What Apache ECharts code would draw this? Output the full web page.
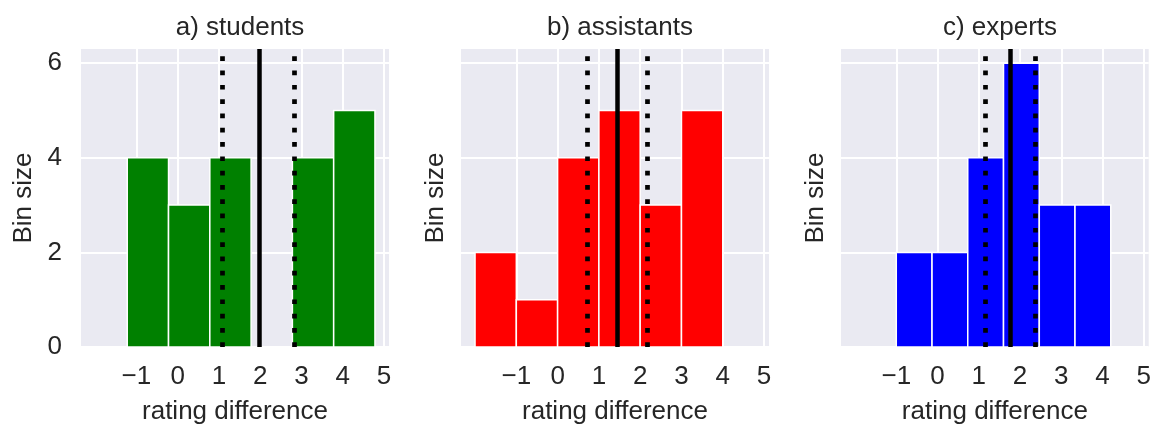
<!DOCTYPE html>
<html>
<head>
<meta charset="utf-8">
<script src="https://cdn.jsdelivr.net/npm/echarts@6/dist/echarts.min.js"></script>
<style>
  html, body { margin: 0; padding: 0; background: #ffffff; }
  #chart { width: 1154px; height: 430px; }
</style>
</head>
<body>
<div id="chart"></div>
<script>
// Histogram bin edges and counts for each group
const panelTitles = ['a) students', 'b) assistants', 'c) experts'];
const binEdgesStudents = [-1.22, -0.22, 0.78, 1.78, 2.78, 3.78, 4.78];
const countsStudents = [4, 3, 4, 0, 4, 5];
const binEdgesAssistants = [-2, -1, 0, 1, 2, 3, 4];
const countsAssistants = [2, 1, 4, 5, 3, 5];
const binEdgesExperts = [-1, -0.133, 0.733, 1.6, 2.467, 3.333, 4.2];
const countsExperts = [2, 2, 4, 6, 3, 3];

// Mean (solid line) and spread bounds (dotted lines) per group
const meanStudents = 1.97, lowStudents = 1.09, highStudents = 2.83;
const meanAssistants = 1.44, lowAssistants = 0.72, highAssistants = 2.16;
const meanExperts = 1.76, lowExperts = 1.145, highExperts = 2.38;

// Axis ticks
const xTicks = [-1, 0, 1, 2, 3, 4, 5];
const yTicks = [0, 2, 4, 6];
const xMin = -2.34, xMax = 5.12;
const yMin = 0, yMax = 6.3;

const barColors = ['#008000', '#ff0000', '#0000ff'];
const textColor = '#262626';
const fontFamily = '"Liberation Sans", Arial, sans-serif';
const fontSize = 26;

const edgesList = [binEdgesStudents, binEdgesAssistants, binEdgesExperts];
const countsList = [countsStudents, countsAssistants, countsExperts];
const statsList = [
  [meanStudents, lowStudents, highStudents],
  [meanAssistants, lowAssistants, highAssistants],
  [meanExperts, lowExperts, highExperts]
];

const gridLefts = [81, 461, 841];
const gridWidth = 308;
const gridTop = 49;
const gridHeight = 299;
const yNameGaps = [44, 12, 12];

const grids = [], xAxes = [], yAxes = [], series = [], titles = [];

for (let i = 0; i < 3; i++) {
  grids.push({
    left: gridLefts[i], top: gridTop, width: gridWidth, height: gridHeight,
    show: true, backgroundColor: '#eaeaf2', borderWidth: 0, containLabel: false
  });
  titles.push({
    text: panelTitles[i],
    left: gridLefts[i] + gridWidth / 2,
    top: 10,
    textAlign: 'center',
    textStyle: { fontFamily, fontSize, fontWeight: 'normal', color: textColor }
  });
  xAxes.push({
    type: 'value', gridIndex: i, min: xMin, max: xMax,
    name: 'rating difference', nameLocation: 'middle', nameGap: 52,
    nameTextStyle: { fontFamily, fontSize, color: textColor },
    axisLine: { show: false },
    axisTick: { show: false, customValues: xTicks },
    axisLabel: {
      customValues: xTicks, margin: 17,
      fontFamily, fontSize, color: textColor,
      formatter: v => String(v).replace('-', '\u2212')
    },
    splitLine: { show: true, lineStyle: { color: '#ffffff', width: 2 } }
  });
  yAxes.push({
    type: 'value', gridIndex: i, min: yMin, max: yMax,
    name: 'Bin size', nameLocation: 'middle', nameGap: yNameGaps[i],
    nameTextStyle: { fontFamily, fontSize, color: textColor },
    axisLine: { show: false },
    axisTick: { show: false, customValues: yTicks },
    axisLabel: {
      show: i === 0, customValues: yTicks, margin: 19,
      fontFamily, fontSize, color: textColor
    },
    splitLine: { show: true, lineStyle: { color: '#ffffff', width: 2 } }
  });

  const edges = edgesList[i];
  const counts = countsList[i];
  const bins = counts.map((c, k) => [edges[k], edges[k + 1], c]);
  const color = barColors[i];
  const [mean, low, high] = statsList[i];

  series.push({
    type: 'custom',
    xAxisIndex: i, yAxisIndex: i,
    data: bins,
    encode: { x: [0, 1], y: 2 },
    renderItem: (params, api) => {
      const p0 = api.coord([api.value(0), 0]);
      const p1 = api.coord([api.value(1), api.value(2)]);
      return {
        type: 'rect',
        shape: { x: p0[0], y: p1[1], width: p1[0] - p0[0], height: p0[1] - p1[1] },
        style: { fill: color, stroke: '#ffffff', lineWidth: 1.5 }
      };
    },
    markLine: {
      silent: true,
      symbol: ['none', 'none'],
      label: { show: false },
      data: [
        { xAxis: low, lineStyle: { color: '#000', width: 4.7, type: [4.7, 9.6], cap: 'butt' } },
        { xAxis: high, lineStyle: { color: '#000', width: 4.7, type: [4.7, 9.6], cap: 'butt' } },
        { xAxis: mean, lineStyle: { color: '#000', width: 4.5, type: 'solid' } }
      ]
    }
  });
}

const chart = echarts.init(document.getElementById('chart'), null, { renderer: 'canvas' });
chart.setOption({
  animation: false,
  backgroundColor: '#ffffff',
  title: titles,
  grid: grids,
  xAxis: xAxes,
  yAxis: yAxes,
  series: series
});
</script>
</body>
</html>
